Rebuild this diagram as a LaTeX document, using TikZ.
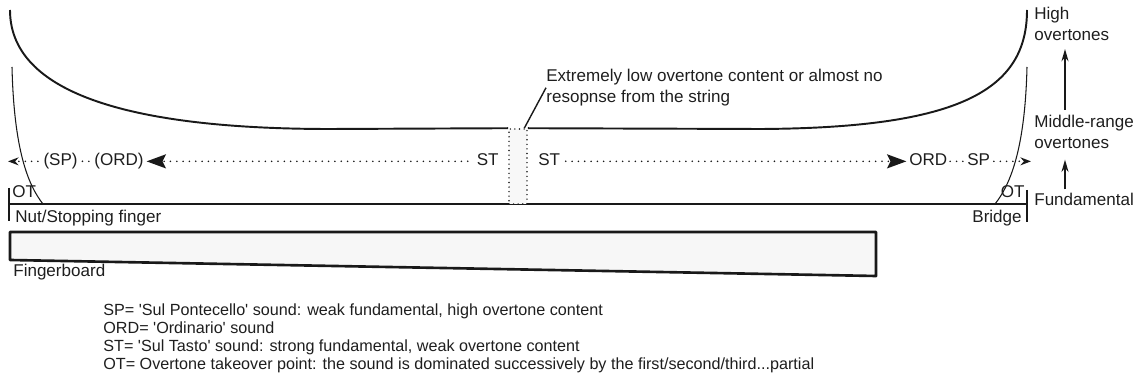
\documentclass[tikz,border=0pt]{standalone}
\usepackage{fontspec}
\setmainfont{Liberation Sans}[Ligatures=TeXOff]
\usepackage{tikz}
\usetikzlibrary{arrows.meta,positioning}
\definecolor{inkgray}{RGB}{25,25,25}
\definecolor{textgray}{RGB}{30,30,30}
\definecolor{boardfill}{RGB}{247,247,247}
\definecolor{gapfill}{RGB}{248,248,248}
\tikzset{
  lbl/.style={inner sep=0pt, text=textgray, font=\fontsize{9.7}{11.9}\selectfont},
  dotrun/.style={inkgray, line width=1pt, line cap=round,
    dash pattern=on 0pt off 3.6pt},
  bigtip/.style={-{Stealth[length=11pt,width=8pt,inset=2pt]}},
  endtip/.style={-{Stealth[length=6pt,width=4.5pt]}},
  risearrow/.style={inkgray, line width=.9pt, -{Stealth[length=7pt,width=4pt]}},
  gapbox/.style={draw=inkgray, line width=.9pt, line cap=round,
    dash pattern=on 0pt off 2.6pt, fill=gapfill, inner sep=0pt,
    minimum width=.36cm, minimum height=1.5cm},
}

\begin{document}
\begin{tikzpicture}[x=0.02cm, y=-0.02cm, line join=round]
  \useasboundingbox (0,0) rectangle (1137,391);

  % The string from nut to bridge, with its two end stops.
  \coordinate (nut) at (9,204);
  \coordinate (bridge) at (1027,204);
  \draw[inkgray, line width=.9pt] (nut) -- (bridge);
  \draw[inkgray, line width=.9pt] (9,188) -- (9,221);
  \draw[inkgray, line width=.9pt] (1027,190) -- (1027,222);

  % Nearly silent spot in the middle of the string.
  \node[gapbox] (gap) at (518,166.5) {};

  % Overtone content along the string.
  \draw[inkgray, line width=1.1pt]
    (10,10) .. controls (10,100) and (150,129) .. (330,129) -- (gap.north west);
  \draw[inkgray, line width=1.1pt]
    (gap.north east) -- (760,129) .. controls (960,128) and (1027,90) .. (1027,10);

  % Overtone takeover curves near both ends.
  \draw[inkgray, line width=.6pt] (12,67) .. controls (14,150) and (28,185) .. (43,204);
  \draw[inkgray, line width=.6pt] (1027,67) .. controls (1025,150) and (1010,185) .. (995,204);

  \node[lbl, anchor=north west, align=left] (note) at (546,69)
    {Extremely low overtone content or almost no\\resopnse from the string};
  \draw[inkgray, line width=.8pt] ([xshift=-2pt]gap.north east) -- (note.west);

  % Towards the nut.
  \node[lbl, anchor=base east] (stL) at (499,166) {ST};
  \node[lbl, anchor=base east] (ordL) at (144,166) {(ORD)};
  \node[lbl, anchor=base east] (spL) at (78,166) {(SP)};
  \coordinate (nutEnd) at (8,162);
  \draw[dotrun, bigtip, shorten <=5pt, shorten >=1.5pt] (stL.mid west) -- (ordL.mid east);
  \draw[dotrun, shorten <=3pt, shorten >=1pt] (ordL.mid west) -- (spL.mid east);
  \draw[dotrun, endtip, shorten <=3pt] (spL.mid west) -- (nutEnd |- spL.mid);

  % Towards the bridge.
  \node[lbl, anchor=base west] (stR) at (538,166) {ST};
  \node[lbl, anchor=base west] (ordR) at (909,166) {ORD};
  \node[lbl, anchor=base west] (spR) at (967,166) {SP};
  \coordinate (bridgeEnd) at (1031,162);
  \draw[dotrun, bigtip, shorten <=3pt, shorten >=1.5pt] (stR.mid east) -- (ordR.mid west);
  \draw[dotrun, shorten <=1.5pt, shorten >=.5pt] (ordR.mid east) -- (spR.mid west);
  \draw[dotrun, endtip, shorten <=2pt] (spR.mid east) -- (bridgeEnd |- spR.mid);

  \node[lbl, anchor=base west] (otL) at (12,198) {OT};
  \node[lbl, anchor=base east] (otR) at (1025,198) {OT};
  \node[lbl, anchor=base west] (nutLbl) at (15,223) {Nut/Stopping finger};
  \node[lbl, anchor=base east] (bridgeLbl) at (1022,223) {Bridge};

  % Fingerboard, slightly wedge shaped.
  \draw[inkgray, line width=1.5pt, fill=boardfill]
    (10,232) -- (876,232) -- (876,276) -- (10,260) -- cycle;
  \node[lbl, anchor=base west] (board) at (13,277) {Fingerboard};

  % Register scale on the right.
  \coordinate (riseX) at (1065,0);
  \node[lbl, anchor=north west, align=left] (high) at (1034,7) {High\\overtones};
  \node[lbl, anchor=north west, align=left] (mid) at (1034,115) {Middle-range\\overtones};
  \node[lbl, anchor=north west] (fund) at (1034,193) {Fundamental};
  \draw[risearrow, shorten <=2pt, shorten >=6pt] (fund.north -| riseX) -- (mid.south -| riseX);
  \draw[risearrow, shorten <=3pt, shorten >=4.5pt] (mid.north -| riseX) -- (high.south -| riseX);

  \node[lbl, anchor=north west, align=left, font=\fontsize{9.2}{10.4}\selectfont]
    (legend) at (103,303)
    {SP= 'Sul Pontecello' sound: weak fundamental, high overtone content\\
     ORD= 'Ordinario' sound\\
     ST= 'Sul Tasto' sound: strong fundamental, weak overtone content\\
     OT= Overtone takeover point: the sound is dominated successively by the first/second/third...partial};
\end{tikzpicture}
\end{document}
